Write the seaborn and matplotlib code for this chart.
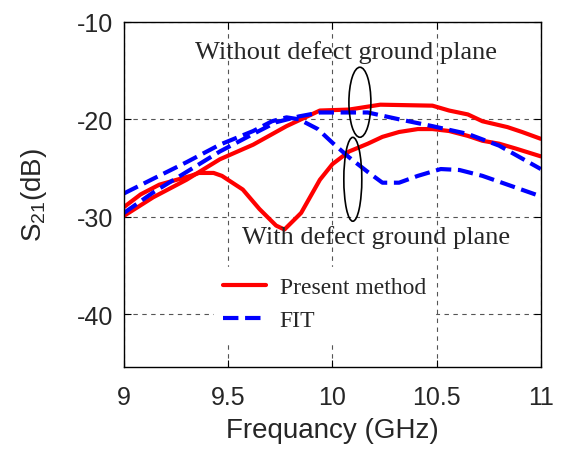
import numpy as np
import pandas as pd
import seaborn as sns
import matplotlib
matplotlib.use('Agg')
import matplotlib.pyplot as plt
from matplotlib.patches import Ellipse

sns.set_style('ticks')
plt.rcParams['font.family'] = ['Liberation Sans', 'DejaVu Sans']
plt.rcParams['mathtext.fontset'] = 'custom'
plt.rcParams['mathtext.rm'] = 'Liberation Sans'
plt.rcParams['axes.unicode_minus'] = False

# curvas (GHz, dB)
f_red_dgp = [9.0, 9.08, 9.17, 9.32, 9.36, 9.43, 9.47, 9.57, 9.65, 9.73, 9.77, 9.85, 9.94,
             10.0, 10.08, 10.17, 10.24, 10.32, 10.41, 10.48, 10.56, 10.65, 10.72, 10.80, 10.88, 11.0]
s_red_dgp = [-29.0, -27.7, -26.7, -25.8, -25.5, -25.5, -25.8, -27.2, -29.2, -30.9, -31.3, -29.6, -26.2,
             -24.6, -23.3, -22.5, -21.8, -21.3, -21.0, -21.0, -21.2, -21.7, -22.2, -22.5, -23.0, -23.8]

f_red_nodgp = [9.0, 9.14, 9.30, 9.46, 9.62, 9.78, 9.88, 9.94, 10.08, 10.23, 10.48, 10.56, 10.65,
               10.72, 10.84, 10.91, 11.0]
s_red_nodgp = [-29.9, -28.0, -26.2, -24.1, -22.6, -20.7, -19.7, -19.1, -19.0, -18.5, -18.6, -19.1, -19.5,
               -20.2, -20.8, -21.3, -22.0]

f_blue_dgp = [9.0, 9.14, 9.30, 9.46, 9.62, 9.71, 9.78, 9.84, 9.93, 10.0, 10.08, 10.17, 10.24, 10.32,
              10.41, 10.52, 10.61, 10.72, 10.84, 11.0]
s_blue_dgp = [-27.6, -26.1, -24.4, -22.6, -21.2, -20.2, -19.8, -20.0, -21.0, -22.4, -23.9, -25.4, -26.5, -26.5,
              -25.8, -25.1, -25.2, -25.8, -26.7, -27.9]

f_blue_nodgp = [9.0, 9.14, 9.30, 9.46, 9.62, 9.73, 9.84, 9.94, 10.17, 10.32, 10.48, 10.65, 10.80, 11.0]
s_blue_nodgp = [-29.6, -27.5, -25.4, -23.3, -21.5, -20.3, -19.7, -19.3, -19.3, -20.0, -20.7, -21.5, -22.7, -25.1]

fig = plt.figure(figsize=(5.61, 4.56), dpi=100)
ax = fig.add_axes([0.221, 0.193, 0.743, 0.757])

lw = 3
sns.lineplot(x=f_red_dgp, y=s_red_dgp, color='red', lw=lw, ax=ax, label='Present method')
sns.lineplot(x=f_red_nodgp, y=s_red_nodgp, color='red', lw=lw, ax=ax)
sns.lineplot(x=f_blue_dgp, y=s_blue_dgp, color='blue', lw=lw, ls='--', ax=ax, label='FIT')
sns.lineplot(x=f_blue_nodgp, y=s_blue_nodgp, color='blue', lw=lw, ls='--', ax=ax)

ax.set_xlim(9, 11)
ax.set_ylim(-45.4, -10)
ax.set_xticks([9, 9.5, 10, 10.5, 11])
ax.set_xticklabels(['9', '9.5', '10', '10.5', '11'])
ax.set_yticks([-40, -30, -20, -10])
ax.grid(True, color='#555555', ls=(0, (4, 4)), lw=0.8)
ax.tick_params(direction='in', top=True, right=True, length=5, labelsize=18, color='black')
ax.tick_params(axis='x', pad=13)
ax.tick_params(axis='y', pad=8)
for s in ax.spines.values():
    s.set_linewidth(1)
    s.set_color('black')

ax.set_xlabel('Frequancy (GHz)', fontsize=20, labelpad=6)
ax.set_ylabel('$\\mathregular{S_{21}}$(dB)', fontsize=20, labelpad=20)

ax.text(10.065, -13.0, 'Without defect ground plane', family='Liberation Serif', fontsize=19,
        ha='center', va='center')
ax.text(10.21, -32.0, 'With defect ground plane', family='Liberation Serif', fontsize=19,
        ha='center', va='center')
ax.add_patch(Ellipse((10.132, -18.25), 0.1055, 7.18, fill=False, ec='black', lw=1.2, zorder=5))
ax.add_patch(Ellipse((10.098, -26.15), 0.0863, 8.6, fill=False, ec='black', lw=1.2, zorder=5))

leg = ax.legend(loc='upper left', bbox_to_anchor=(0.215, 0.29), frameon=True, fancybox=False,
                edgecolor='white', facecolor='white', framealpha=1,
                prop={'family': 'Liberation Serif', 'size': 17}, handlelength=1.8,
                handletextpad=0.6, labelspacing=0.5, borderaxespad=0)

fig.savefig('out.png', dpi=100)
